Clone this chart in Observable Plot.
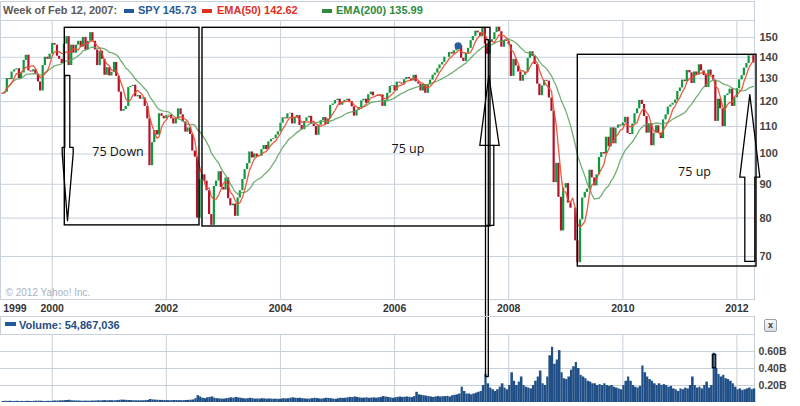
<!DOCTYPE html>
<html>
<head>
<meta charset="utf-8">
<script src="https://cdn.jsdelivr.net/npm/d3@7"></script>
<script src="https://cdn.jsdelivr.net/npm/@observablehq/plot@0.6"></script>
<style>
  html, body { margin: 0; padding: 0; background: #fff; }
  #wrap { position: relative; width: 800px; height: 406px; overflow: hidden; background: #fff; font-family: "Liberation Sans", Arial, sans-serif; }
  .abs { position: absolute; }
  .lg { position: absolute; top: 0; height: 21px; line-height: 21px; font-size: 11px; font-weight: bold; white-space: nowrap; }
  .mk { position: absolute; width: 10px; height: 4px; }
  .box { position: absolute; box-sizing: border-box; border: 1px solid #c8d1da; border-bottom: none; pointer-events: none; background: transparent; }
</style>
</head>
<body>
<div id="wrap">
  <div id="main" class="abs" style="left:0;top:19px;width:800px;height:297px;overflow:hidden"></div>
  <div id="vol" class="abs" style="left:0;top:316px;width:800px;height:90px;overflow:hidden"></div>
  <div class="box" style="left:0;top:1px;width:755px;height:19px"></div>
  <div class="box" style="left:0;top:316px;width:755px;height:18px"></div>
  <div id="legend" class="abs" style="left:0;top:0;width:800px;height:19px"></div>
  <div id="volhead" class="abs" style="left:0;top:316px;width:754px;height:18px"></div>
  <div class="abs" style="left:764px;top:319px;width:11px;height:11px;border:1px solid #9aa3ad;border-radius:2px;background:linear-gradient(#fbfbfb,#d9dde2);font:bold 9px 'Liberation Sans',Arial,sans-serif;color:#333;text-align:center;line-height:11px">x</div>
</div>
<script>
// ---------- data (semi-monthly: 1st and 15th of each month) ----------
const spy1999 = [123.5,124,130,129.5,133,134,134.5,130,132.5,138.5,141,133.5,133,134,132,128.5,124.5,136,140,139,141.5]; // from Feb 15
const spy2000 = [146.9,146,140.5,139,137,146.5,150.4,136,146,142,146,148,145,150,143.5,148,152.5,148,143.6,136,143,139,131.5,135];
const spy2001 = [131.2,132.8,137.5,131,124,116,116.7,118,126,126.5,127,122,122.5,121,121.5,118,113,96,104,108.5,106.8,115,114,113];
const spy2002 = [114.3,114.5,113,111,113,117,114.6,111.8,107.9,109.5,107,101,98.9,80,91.5,93,91,88,81,78,89.3,91,94,89];
const spy2003 = [88.2,92,85.6,83.5,84,80.5,85.8,88,91.5,94.7,96.7,100.7,98.6,100,99,99.2,101.5,103,101.5,104.3,105.2,105.5,106.8,108];
const spy2004 = [111.3,113.4,113,115,115.2,111,113.5,114.3,110.4,108.8,112,113.4,114,111,110,106.7,110.5,112.3,113.5,110.8,113,118.4,119,120.4];
const spy2005 = [121,118.5,119.7,120.5,121,120,117.8,114.1,116.4,117.5,120.3,121,119.3,122.9,124,122.4,122.6,122.2,122.8,118,120.5,123.5,126.5,126.8];
const spy2006 = [124.5,128.4,128,127.5,129.5,130.5,129.8,128.9,131.5,128.5,127.5,124.5,127.3,123.5,127.2,129.3,131.5,132.5,134.5,136.3,137.5,140,140,142.3];
const spy2007 = [141.6,143.2,144.7,145.7,139.5,138,142,144.4,148.3,150.5,153.3,152.4,150.4,155.1,146.6,141.5,147.6,148.8,152.5,155.5,153,145,148.5,148];
const spy2008 = [146.2,131,139,135.8,133,128.8,131.5,133,139.5,142.7,140.4,136.5,127.5,122.5,126.7,129.2,128.8,121.5,116,90.5,96.8,86,76.5,88.8];
const spy2009 = [90.2,84.3,82.8,82.8,73.9,68.5,79.5,85.8,87.5,88.5,94.5,92,89.5,93,98.8,100.5,100,106,102.5,109.5,103.6,109.4,110.6,110.2];
const spy2010 = [111.4,113.6,107.4,107,111,115,117,120.5,118.8,113.9,107.5,111,102.9,107.5,110.3,107.5,105.5,112.6,114.6,117.7,118.5,119.3,120.6,124.3];
const spy2011 = [125.8,129.3,128.6,133.7,132.6,127.8,133,131.6,136.4,133.5,131.4,126,133.9,131.5,129.3,112,121,117,110,122.5,123.2,125.3,118,121.6];
const spy2012 = [125.5,129.4,131.3,134.8,137,140.7,140.8,137.2];

// weekly volume, billions of shares
const vol1999 = [0.012,0.014,0.013,0.015,0.012,0.013,0.014,0.012,0.013,0.011,0.014,0.013,0.012,0.014,0.015,0.016,0.015,0.013,0.012,0.014,0.013];
const vol2000 = [0.016,0.018,0.017,0.019,0.02,0.022,0.024,0.026,0.02,0.018,0.019,0.017,0.016,0.015,0.016,0.015,0.016,0.017,0.018,0.02,0.019,0.021,0.022,0.02];
const vol2001 = [0.022,0.021,0.02,0.022,0.025,0.028,0.027,0.025,0.024,0.022,0.021,0.02,0.021,0.02,0.02,0.022,0.025,0.035,0.03,0.028,0.026,0.025,0.024,0.022];
const vol2002 = [0.022,0.021,0.022,0.024,0.023,0.022,0.021,0.022,0.024,0.025,0.027,0.03,0.045,0.08,0.065,0.05,0.045,0.055,0.06,0.065,0.05,0.045,0.042,0.04];
const vol2003 = [0.04,0.045,0.05,0.055,0.05,0.06,0.055,0.05,0.045,0.042,0.045,0.05,0.045,0.04,0.042,0.04,0.045,0.043,0.04,0.042,0.04,0.038,0.04,0.037];
const vol2004 = [0.04,0.045,0.042,0.045,0.05,0.055,0.05,0.048,0.05,0.045,0.042,0.04,0.04,0.045,0.05,0.047,0.042,0.04,0.045,0.05,0.048,0.045,0.04,0.038];
const vol2005 = [0.045,0.05,0.048,0.05,0.055,0.06,0.058,0.065,0.06,0.055,0.05,0.052,0.055,0.05,0.052,0.055,0.05,0.055,0.06,0.07,0.065,0.06,0.055,0.05];
const vol2006 = [0.055,0.06,0.065,0.06,0.062,0.065,0.06,0.058,0.07,0.12,0.09,0.085,0.08,0.075,0.07,0.065,0.06,0.065,0.07,0.065,0.068,0.07,0.072,0.065];
const vol2007 = [0.08,0.085,0.09,0.1,0.18,0.13,0.1,0.1,0.09,0.1,0.11,0.12,0.13,0.2,0.33,0.22,0.17,0.15,0.13,0.15,0.18,0.22,0.17,0.15];
const vol2008 = [0.2,0.35,0.25,0.2,0.24,0.3,0.2,0.18,0.17,0.16,0.2,0.25,0.3,0.37,0.22,0.2,0.3,0.55,0.65,0.45,0.5,0.61,0.35,0.28];
const vol2009 = [0.27,0.3,0.38,0.42,0.47,0.4,0.32,0.3,0.28,0.25,0.24,0.22,0.22,0.2,0.21,0.2,0.22,0.2,0.19,0.2,0.18,0.17,0.16,0.15];
const vol2010 = [0.2,0.25,0.3,0.25,0.2,0.18,0.17,0.19,0.43,0.35,0.3,0.27,0.25,0.22,0.2,0.22,0.2,0.21,0.2,0.18,0.19,0.16,0.15,0.13];
const vol2011 = [0.16,0.15,0.17,0.16,0.2,0.3,0.2,0.17,0.18,0.16,0.2,0.24,0.17,0.2,0.58,0.4,0.33,0.3,0.32,0.28,0.27,0.25,0.22,0.18];
const vol2012 = [0.15,0.16,0.14,0.15,0.16,0.17,0.15,0.16];

const yearList = [1999,2000,2001,2002,2003,2004,2005,2006,2007,2008,2009,2010,2011,2012];
const spyYears = [spy1999,spy2000,spy2001,spy2002,spy2003,spy2004,spy2005,spy2006,spy2007,spy2008,spy2009,spy2010,spy2011,spy2012];
const volYears = [vol1999,vol2000,vol2001,vol2002,vol2003,vol2004,vol2005,vol2006,vol2007,vol2008,vol2009,vol2010,vol2011,vol2012];
const firstSlot1999 = 3; // Feb 15

// axis ticks / labels
const yearTicks = [2000,2002,2004,2006,2008,2010,2012];
const priceTicks = [70,80,90,100,110,120,130,140,150];
const volTicks = [0.2,0.4,0.6];
const xDomain = [1999.094, 2012.308];
const priceDomain = [60.27, 159.1];
const volDomain = [0, 0.8];

// legend / hover texts
const hoverLabel = "Week of Feb 12, 2007:";
const hoverDate = 2007.1135;
const hoverClose = 145.73;
const legendItems = [
  {label: "SPY 145.73", color: "#1f5b99", mx: 124, tx: 138},
  {label: "EMA(50) 142.62", color: "#e0301e", mx: 202, tx: 217},
  {label: "EMA(200) 135.99", color: "#2e8b3e", mx: 322, tx: 336}
];
const volumeLabel = "Volume: 54,867,036";
const copyright = "© 2012 Yahoo! Inc.";

// hand-drawn annotations (data units: decimal year, price / volume)
const annotBoxes = [
  {x1: 2000.2208, x2: 2002.5815, y1: 78.0, y2: 155.1},
  {x1: 2002.634,  x2: 2007.681,  y1: 77.7, y2: 155.1},
  {x1: 2009.2114, x2: 2012.3432, y1: 67.6, y2: 141.2}
];
const annotTexts = [
  {x: 2001.153, y: 100.6, t: "75 Down"},
  {x: 2006.2356, y: 101.7, t: "75 up"},
  {x: 2011.2566, y: 93.9, t: "75 up"}
];
const arrowDown = [[2000.2208,131.4],[2000.3085,131.4],[2000.3085,102.3],[2000.368,102.3],[2000.368,100.2],[2000.2681,79.3],[2000.1753,100.2],[2000.1753,102.3],[2000.2208,102.3],[2000.2208,131.4]];
const arrowHead2007 = [[2007.4939,103.0],[2007.6516,131.4],[2007.8339,103.0],[2007.4939,103.0]];
const arrowSide2007 = [[2007.7393,103.0],[2007.7393,78.0],[2007.5937,78.0]];
const shaft2007 = [[2007.5937,50],[2007.5937,148.9],[2007.6428,148.9],[2007.6428,50]];
const arrowUp2012 = [[2012.1381,68.8],[2012.1381,92.25],[2012.0505,92.25],[2012.2258,122.9],[2012.401,92.25],[2012.3134,92.25],[2012.3134,68.8],[2012.1381,68.8]];
const shaftVol2007 = [[2007.5937,1.5],[2007.5937,0.306],[2007.6428,0.306],[2007.6428,1.5]];
const volMarkBox = [{x1: 2011.5776, x2: 2011.6372, y1: 0.403, y2: 0.561}];

// ---------- build table ----------
const rows = [];
yearList.forEach((yr, i) => {
  const s0 = yr === 1999 ? firstSlot1999 : 0;
  spyYears[i].forEach((c, j) => {
    const s = s0 + j;
    rows.push({date: yr + Math.floor(s / 2) / 12 + (s % 2) * 14 / 365, close: c, vol: volYears[i][j]});
  });
});
rows.forEach((r, i) => {
  r.open = i ? rows[i - 1].close : r.close;
  r.next = i < rows.length - 1 ? rows[i + 1].date : r.date + 15 / 365;
  r.up = r.close >= r.open;
});
const pts = (arr, id) => arr.map(([x, y]) => ({x, y, id}));

const grid = "#c8d1da";
const upColor = "#0b9a3c";
const downColor = "#b3112b";
const ema50Color = "#ea4a2e";
const ema200Color = "#5aa15a";
const volColor = "#1f4f86";
const baseStyle = {fontFamily: "'Liberation Sans', Arial, sans-serif", fontSize: "11px", fontWeight: "bold", color: "#444", background: "white", overflow: "hidden"};

const mainChart = Plot.plot({
  width: 800, height: 297,
  marginLeft: 0, marginRight: 46, marginTop: 1, marginBottom: 17,
  x: {domain: xDomain},
  y: {type: "log", domain: priceDomain, axis: null},
  style: baseStyle,
  marks: [
    Plot.ruleX(yearTicks, {stroke: grid}),
    Plot.ruleY(priceTicks, {stroke: grid}),
    Plot.frame({stroke: grid}),
    Plot.text(priceTicks, {y: d => d, text: d => String(d), frameAnchor: "right", textAnchor: "start", dx: 5, fill: "#444", fontSize: 11}),
    Plot.axisX(yearTicks, {anchor: "bottom", tickSize: 0, tickPadding: 5.5, tickFormat: d => String(d), fill: "#333", fontSize: 10.5, label: null}),
    Plot.text([{x: xDomain[0], t: "1999"}], {x: "x", text: "t", frameAnchor: "bottom", textAnchor: "start", lineAnchor: "top", dx: 2.7, dy: 5.5, fill: "#333", fontSize: 10.5}),
    Plot.text([copyright], {frameAnchor: "bottom-left", textAnchor: "start", lineAnchor: "middle", dx: 5, dy: -7, fill: "#aab3bd", fontSize: 10, fontWeight: "normal"}),
    Plot.ruleX(rows.filter(d => d.up), {x: "date", y1: "open", y2: "close", stroke: upColor, strokeWidth: 2.2}),
    Plot.ruleX(rows.filter(d => !d.up), {x: "date", y1: "open", y2: "close", stroke: downColor, strokeWidth: 2.2}),
    Plot.lineY(rows, Plot.windowY({k: 18, anchor: "end"}, {x: "date", y: "close", stroke: ema200Color, strokeWidth: 1.3, strokeOpacity: 0.85})),
    Plot.lineY(rows, Plot.windowY({k: 5, anchor: "end"}, {x: "date", y: "close", stroke: ema50Color, strokeWidth: 1.3, strokeOpacity: 0.9})),
    Plot.rect(annotBoxes, {x1: "x1", x2: "x2", y1: "y1", y2: "y2", fill: "none", stroke: "black", strokeWidth: 1.4}),
    Plot.line([...pts(arrowDown, "a"), ...pts(arrowHead2007, "b"), ...pts(arrowSide2007, "c"), ...pts(shaft2007, "d"), ...pts(arrowUp2012, "e")],
      {x: "x", y: "y", z: "id", stroke: "black", strokeWidth: 1.3}),
    Plot.text(annotTexts, {x: "x", y: "y", text: "t", fontFamily: "'Open Sans', sans-serif", fontSize: 12.5, fontWeight: "normal", fill: "#111"}),
    Plot.dot([{x: hoverDate, y: hoverClose}], {x: "x", y: "y", r: 3.6, fill: "#2d5d9b"})
  ]
});
document.getElementById("main").appendChild(mainChart);

const volChart = Plot.plot({
  width: 800, height: 90,
  marginLeft: 0, marginRight: 46, marginTop: 18, marginBottom: 4,
  x: {domain: xDomain, axis: null},
  y: {domain: volDomain, axis: null},
  style: baseStyle,
  marks: [
    Plot.ruleX(yearTicks, {y1: volDomain[0], y2: volDomain[1], stroke: grid}),
    Plot.ruleY(volTicks, {stroke: grid}),
    Plot.ruleY([volDomain[1]], {stroke: grid}),
    Plot.ruleX([xDomain[1]], {y1: volDomain[0], y2: volDomain[1], stroke: grid}),
    Plot.rect(rows, {x1: "date", x2: "next", y1: 0, y2: "vol", fill: volColor}),
    Plot.text(volTicks, {y: d => d, text: d => d.toFixed(2) + "B", frameAnchor: "right", textAnchor: "start", dx: 4, fill: "#444", fontSize: 10.5}),
    Plot.line(pts(shaftVol2007, "s"), {x: "x", y: "y", z: "id", stroke: "black", strokeWidth: 1.3}),
    Plot.rect(volMarkBox, {x1: "x1", x2: "x2", y1: "y1", y2: "y2", fill: "none", stroke: "black", strokeWidth: 1.2})
  ]
});
document.getElementById("vol").appendChild(volChart);

// legend (top) and volume header
const legend = document.getElementById("legend");
const lab = document.createElement("div");
lab.className = "lg"; lab.style.left = "3px"; lab.style.color = "#5a5a5a"; lab.textContent = hoverLabel;
legend.appendChild(lab);
legendItems.forEach(it => {
  const m = document.createElement("div");
  m.className = "mk"; m.style.left = it.mx + "px"; m.style.top = "9px"; m.style.background = it.color;
  legend.appendChild(m);
  const t = document.createElement("div");
  t.className = "lg"; t.style.left = it.tx + "px"; t.style.color = it.color; t.textContent = it.label;
  legend.appendChild(t);
});
const vh = document.getElementById("volhead");
const vm = document.createElement("div");
vm.className = "mk"; vm.style.left = "5px"; vm.style.top = "6px"; vm.style.width = "11px"; vm.style.height = "4px"; vm.style.background = "#1f5b99";
vh.appendChild(vm);
const vt = document.createElement("div");
vt.className = "lg"; vt.style.left = "19px"; vt.style.height = "18px"; vt.style.lineHeight = "18px"; vt.style.color = "#1f4e85"; vt.textContent = volumeLabel;
vh.appendChild(vt);
</script>
</body>
</html>
